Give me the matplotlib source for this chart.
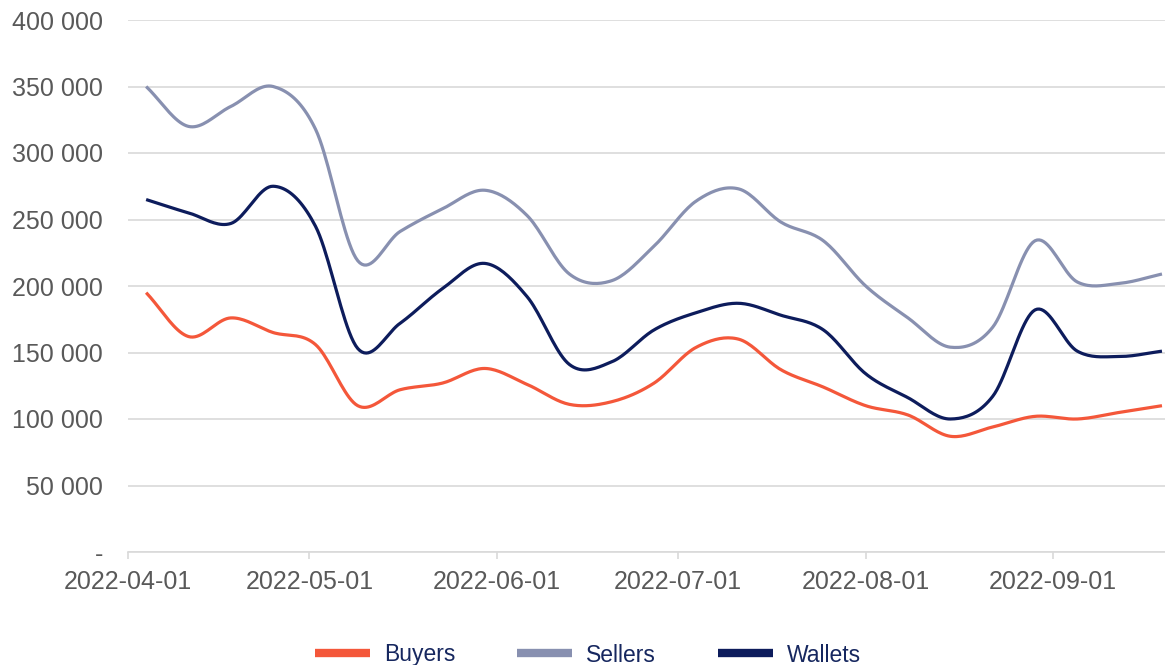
import numpy as np
import pandas as pd
import matplotlib
matplotlib.use("Agg")
import matplotlib.pyplot as plt
import matplotlib.dates as mdates
import matplotlib.ticker as mticker

# weekly values (thousands)
weeks = pd.date_range("2022-04-04", periods=25, freq="7D")
buyers = [195, 162, 176, 165, 156, 110, 122, 127, 138, 126, 111, 113, 127,
          154, 160, 137, 124, 110, 103, 87, 94, 102, 100, 105, 110]
sellers = [350, 320, 335, 350, 318, 219, 241, 258, 272, 253, 209, 204, 230,
           264, 273, 248, 234, 200, 176, 154, 169, 234, 203, 202, 209]
wallets = [265, 255, 247, 275, 245, 153, 172, 198, 217, 192, 141, 143, 167,
           180, 187, 178, 167, 134, 116, 100, 117, 182, 151, 147, 151]

series = [("Buyers", buyers, "#F4573A"),
          ("Sellers", sellers, "#8890B0"),
          ("Wallets", wallets, "#0D1C5C")]


def smooth(x, y, n=20):
    # catmull-rom style smoothing, like the spreadsheet "smoothed line"
    x = np.asarray(x, float)
    y = np.asarray(y, float)
    m = np.zeros_like(y)
    m[1:-1] = (y[2:] - y[:-2]) / 2
    m[0] = y[1] - y[0]
    m[-1] = y[-1] - y[-2]
    xs, ys = [], []
    for i in range(len(x) - 1):
        t = np.linspace(0, 1, n, endpoint=False)
        h00 = 2 * t**3 - 3 * t**2 + 1
        h10 = t**3 - 2 * t**2 + t
        h01 = -2 * t**3 + 3 * t**2
        h11 = t**3 - t**2
        xs.append(x[i] + t * (x[i + 1] - x[i]))
        ys.append(h00 * y[i] + h10 * m[i] + h01 * y[i + 1] + h11 * m[i + 1])
    xs.append([x[-1]])
    ys.append([y[-1]])
    return np.concatenate(xs), np.concatenate(ys)


plt.rcParams["font.family"] = ["Liberation Sans", "DejaVu Sans"]

fig = plt.figure(figsize=(11.65, 6.65), dpi=100)
ax = fig.add_axes([128 / 1165, 113 / 665, 1 - 128 / 1165, 532 / 665])

xnum = mdates.date2num(weeks)
for name, vals, col in series:
    sx, sy = smooth(xnum, np.array(vals) * 1000)
    ax.plot(sx, sy, color=col, lw=2.3, label=name, solid_capstyle="butt")

ax.set_ylim(0, 400000)
ax.set_xlim(mdates.date2num(pd.Timestamp("2022-04-01")),
            mdates.date2num(pd.Timestamp("2022-09-19 12:00")))

ax.yaxis.set_major_locator(mticker.MultipleLocator(50000))
ax.yaxis.set_major_formatter(mticker.FuncFormatter(
    lambda v, p: "-" if v == 0 else f"{int(v):,}".replace(",", " ")))
ax.xaxis.set_major_locator(mdates.MonthLocator())
ax.xaxis.set_major_formatter(mdates.DateFormatter("%Y-%m-%d"))

ax.grid(axis="y", color="#D9D9D9", lw=1.2)
ax.set_axisbelow(True)
for s in ["left", "right", "top"]:
    ax.spines[s].set_visible(False)
ax.spines["bottom"].set_color("#D9D9D9")
ax.spines["bottom"].set_linewidth(1.2)

ax.tick_params(axis="y", length=0, pad=18, labelsize=18, labelcolor="#595959")
ax.tick_params(axis="x", length=5, width=1.2, color="#D9D9D9", pad=8,
               labelsize=18, labelcolor="#595959")

leg = fig.legend(loc="center", bbox_to_anchor=(588 / 1165, 1 - 655 / 665),
                 ncol=3, frameon=False, fontsize=16.5, handlelength=2.4,
                 handletextpad=0.6, columnspacing=2.7)
for h in leg.get_lines():
    h.set_linewidth(6)
for t in leg.get_texts():
    t.set_color("#16275F")

fig.savefig("out.png", dpi=100)
